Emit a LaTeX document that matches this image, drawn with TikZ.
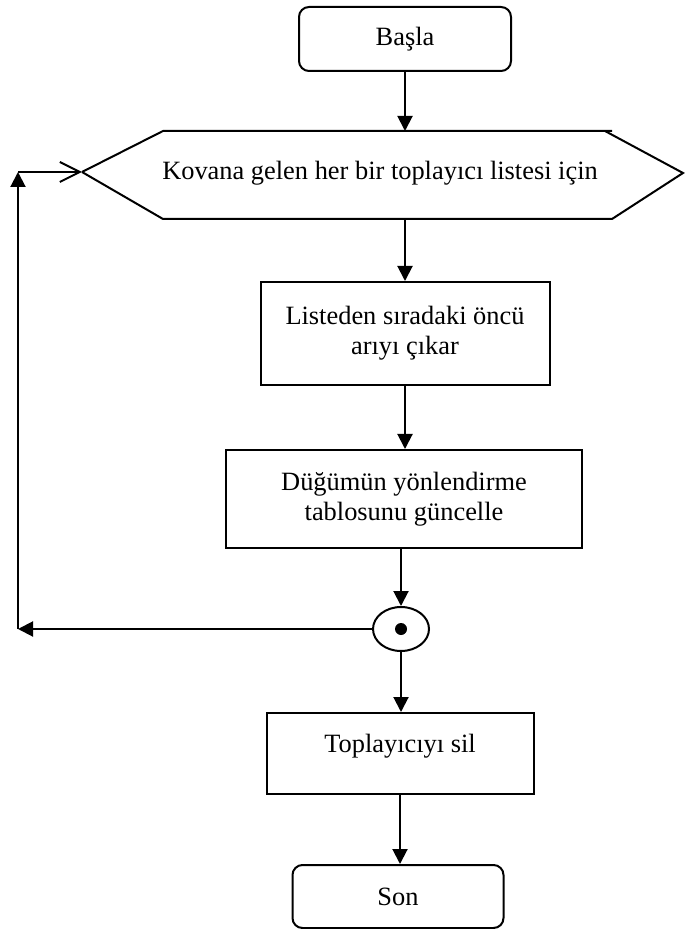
\documentclass[tikz,border=0pt]{standalone}
\usepackage{fontspec}
\setmainfont{Liberation Serif}
\usetikzlibrary{arrows.meta,shapes.geometric}
\begin{document}
\begin{tikzpicture}[x=0.5pt,y=-0.5pt,
  line width=1pt,
  font=\fontsize{13.2}{15}\selectfont,
  arr/.style={-{Triangle[length=7.5pt,width=7.5pt]}},
  openarr/.style={-{Straight Barb[length=10pt,width=10pt]}},
  procbox/.style={draw, rectangle, align=center, inner sep=0pt},
  termbox/.style={draw, rectangle, rounded corners=5pt, align=center, inner sep=0pt},
  mergenode/.style={draw, ellipse, inner sep=0pt, minimum width=28pt, minimum height=22pt},
]
\useasboundingbox (0,0) rectangle (684,929);

% start terminal
\node[termbox, minimum width=106pt, minimum height=32pt] (basla) at (405,39) {Başla};

% loop header (hexagon)
\coordinate (hexTip) at (82,172);
\coordinate (hexTop) at (405,131);
\coordinate (hexBot) at (405,219);
\draw (hexTip) -- (163,131) -- (612,131);
\draw (605,131) -- (683,173) -- (612,219) -- (163,219) -- (hexTip);
\node (loop) at (380,173) {Kovana gelen her bir toplayıcı listesi için};

% process steps
\node[procbox, minimum width=144.5pt, minimum height=51.5pt] (listeden) at (405,333.5)
  {Listeden sıradaki öncü\\arıyı çıkar};
\node[procbox, minimum width=178pt, minimum height=49pt] (dugum) at (404,499)
  {Düğümün yönlendirme\\tablosunu güncelle};

% loop junction
\node[mergenode] (merge) at (401,629) {};
\fill (merge.center) circle[radius=3pt];

\node[procbox, minimum width=133.5pt, minimum height=40.5pt] (sil) at (400,753.5) {};
\node (siltext) at (400,746) {Toplayıcıyı sil};

% end terminal
\node[termbox, minimum width=105.5pt, minimum height=31.5pt] (son) at (398,896.5) {Son};

% loop-back path
\coordinate (cornerB) at (18,629);
\coordinate (cornerT) at (18,172);

% connectors
\draw[arr] (basla.south) -- (hexTop);
\draw[arr] (hexBot) -- (hexBot |- listeden.north);
\draw[arr] (listeden.south -| hexBot) -- (hexBot |- dugum.north);
\draw[arr] (merge |- dugum.south) -- (merge.north);
\draw[arr] (merge.west) -- (cornerB);
\draw[arr] (cornerB) -- (cornerT);
\draw[openarr] (cornerT) -- (hexTip);
\draw[arr] (merge.south) -- (merge |- sil.north);
\draw[arr] (sil.south) -- (sil.south |- son.north);
\end{tikzpicture}
\end{document}
